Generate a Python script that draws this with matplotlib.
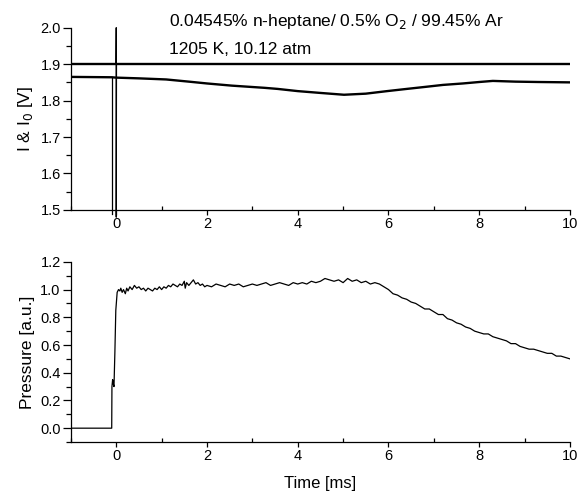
import numpy as np
import matplotlib
matplotlib.use("Agg")
import matplotlib.pyplot as plt
from matplotlib.ticker import MultipleLocator

plt.rcParams.update({
    "font.family": ["Liberation Sans", "DejaVu Sans"],
    "font.size": 10.5,
    "axes.linewidth": 0.9,
})

# top panel: absorption signals I0 and I  [V]
i0_t = [-1.0, 10.0]
i0_v = [1.900, 1.900]
i0_spike_t = [-0.005, 0.0, 0.0, 0.005]
i0_spike_v = [1.900, 2.000, 1.480, 1.900]

i_t = [-1.0, -0.10, 0.0, 0.5, 1.1, 1.6, 2.0, 2.55, 3.27, 3.56,
       4.0, 4.5, 5.02, 5.5, 5.97, 6.4, 6.84, 7.2, 7.64, 8.0, 8.3, 8.8, 9.3, 10.0]
i_v = [1.865, 1.864, 1.863, 1.861, 1.858, 1.852, 1.847, 1.841,
       1.835, 1.832, 1.826, 1.821, 1.816, 1.819, 1.826, 1.832, 1.838, 1.843,
       1.847, 1.851, 1.854, 1.852, 1.851, 1.850]
i_spike_t = [-0.095, -0.09, -0.09]
i_spike_v = [1.864, 1.864, 1.490]

# bottom panel: pressure trace [a.u.]
p_t = [-1.0, -0.10, -0.095, -0.08, -0.065, -0.05, -0.03, -0.01, 0.02, 0.05,
       0.08, 0.10, 0.13, 0.16, 0.20, 0.23, 0.26, 0.30, 0.35, 0.40,
       0.45, 0.50, 0.55, 0.60, 0.65, 0.70, 0.75, 0.80, 0.85, 0.90,
       0.95, 1.00, 1.05, 1.10, 1.15, 1.20, 1.25, 1.30, 1.35, 1.40,
       1.45, 1.50, 1.52, 1.55, 1.60, 1.65, 1.70, 1.75, 1.80, 1.85,
       1.90, 1.95, 2.00, 2.10, 2.20, 2.30, 2.40, 2.50, 2.60, 2.70,
       2.80, 2.90, 3.00, 3.10, 3.20, 3.30, 3.40, 3.50, 3.60, 3.70,
       3.80, 3.90, 4.00, 4.10, 4.20, 4.30, 4.40, 4.50, 4.60, 4.70,
       4.80, 4.90, 5.00, 5.10, 5.20, 5.30, 5.40, 5.50, 5.60, 5.70,
       5.80, 5.90, 6.00, 6.10, 6.20, 6.30, 6.40, 6.50, 6.60, 6.70,
       6.80, 6.90, 7.00, 7.10, 7.20, 7.30, 7.40, 7.50, 7.60, 7.70,
       7.80, 7.90, 8.00, 8.10, 8.20, 8.30, 8.40, 8.50, 8.60, 8.70,
       8.80, 8.90, 9.00, 9.10, 9.20, 9.30, 9.40, 9.50, 9.60, 9.70,
       9.80, 9.90, 10.00]
p_v = [0.00, 0.00, 0.30, 0.35, 0.32, 0.30, 0.55, 0.85, 0.98, 1.00,
       0.99, 1.01, 0.98, 1.00, 0.97, 1.01, 0.99, 1.02, 1.00, 1.03,
       1.01, 1.02, 1.00, 1.01, 0.99, 1.01, 1.00, 0.99, 1.01, 1.00,
       1.02, 1.00, 1.02, 1.01, 1.03, 1.02, 1.04, 1.03, 1.02, 1.04,
       1.03, 1.06, 1.01, 1.05, 1.03, 1.05, 1.07, 1.04, 1.05, 1.03,
       1.04, 1.02, 1.03, 1.02, 1.04, 1.03, 1.02, 1.04, 1.03, 1.04,
       1.02, 1.03, 1.04, 1.03, 1.04, 1.05, 1.03, 1.04, 1.05, 1.04,
       1.03, 1.05, 1.04, 1.05, 1.04, 1.06, 1.05, 1.06, 1.08, 1.07,
       1.06, 1.07, 1.05, 1.08, 1.06, 1.07, 1.05, 1.06, 1.04, 1.05,
       1.04, 1.02, 1.00, 0.97, 0.96, 0.94, 0.93, 0.91, 0.90, 0.88,
       0.86, 0.86, 0.84, 0.82, 0.82, 0.79, 0.78, 0.76, 0.75, 0.73,
       0.72, 0.70, 0.69, 0.68, 0.68, 0.66, 0.65, 0.64, 0.63, 0.61,
       0.61, 0.59, 0.58, 0.57, 0.57, 0.56, 0.55, 0.54, 0.54, 0.52,
       0.52, 0.51, 0.50]


def style_axes(ax):
    for s in ("top", "right"):
        ax.spines[s].set_visible(False)
    ax.set_xlim(-1, 10)
    ax.xaxis.set_major_locator(MultipleLocator(2))
    ax.xaxis.set_minor_locator(MultipleLocator(1))
    ax.tick_params(axis="x", which="major", direction="out", length=3.6,
                   width=0.9, pad=1.5)
    ax.tick_params(axis="x", which="minor", direction="in", length=3, width=0.9)
    ax.tick_params(axis="y", which="major", direction="out", length=5.8,
                   width=0.9, pad=1.5)
    ax.tick_params(axis="y", which="minor", direction="out", length=3.6, width=0.9)


fig = plt.figure(figsize=(5.81, 4.95), dpi=100)
ax1 = fig.add_axes([0.122, 0.576, 0.859, 0.368])
ax2 = fig.add_axes([0.122, 0.107, 0.859, 0.364])

ax1.plot(i0_t, i0_v, color="black", lw=1.7)
ax1.plot(i_t, i_v, color="black", lw=1.7)
ax1.plot(i0_spike_t, i0_spike_v, color="black", lw=0.9, clip_on=False)
ax1.plot(i_spike_t, i_spike_v, color="black", lw=0.9, clip_on=False)
style_axes(ax1)
ax1.set_ylim(1.5, 2.0)
ax1.yaxis.set_major_locator(MultipleLocator(0.1))
ax1.yaxis.set_minor_locator(MultipleLocator(0.05))
ax1.set_ylabel("I & I$_0$ [V]", fontsize=12.5, labelpad=4)
ax1.text(0.197, 1.033, "0.04545% n-heptane/ 0.5% O$_2$ / 99.45% Ar",
         transform=ax1.transAxes, fontsize=12.5, va="center")
ax1.text(0.197, 0.879, "1205 K, 10.12 atm",
         transform=ax1.transAxes, fontsize=12.5, va="center")

ax2.plot(p_t, p_v, color="black", lw=0.9)
style_axes(ax2)
ax2.set_ylim(-0.1, 1.2)
ax2.yaxis.set_major_locator(MultipleLocator(0.2))
ax2.yaxis.set_minor_locator(MultipleLocator(0.1))
ax2.set_yticks(np.arange(0.0, 1.21, 0.2))
ax2.set_ylabel("Pressure [a.u.]", fontsize=12.5, labelpad=4)
ax2.set_xlabel("Time [ms]", fontsize=12, labelpad=9)

fig.savefig("out.png", dpi=100)
